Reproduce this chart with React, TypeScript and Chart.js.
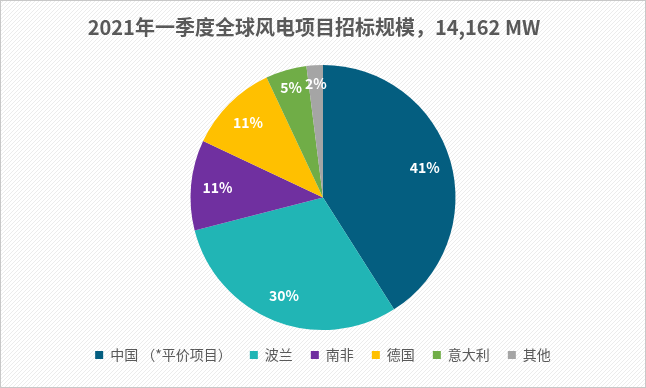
import React, { useEffect, useRef } from "react";
import { Chart, registerables } from "chart.js";

Chart.register(...registerables);

const titleText = "2021年一季度全球风电项目招标规模，14,162 MW";
const categories = ["中国 （*平价项目）", "波兰", "南非", "德国", "意大利", "其他"];
const shares = [41, 30, 11, 11, 5, 2];
const colors = ["#045e80", "#21b5b5", "#7030a0", "#ffc000", "#70ad47", "#a5a5a5"];

const FONT = "'Noto Sans CJK SC', 'Noto Sans', sans-serif";

const bgPlugin = {
  id: "bgPlugin",
  beforeDraw(chart: any) {
    const { ctx, width, height } = chart;
    const p = document.createElement("canvas");
    p.width = 4;
    p.height = 4;
    const pc = p.getContext("2d")!;
    pc.fillStyle = "#ffffff";
    pc.fillRect(0, 0, 4, 4);
    pc.strokeStyle = "#ececec";
    pc.lineWidth = 1;
    pc.beginPath();
    pc.moveTo(0, 4);
    pc.lineTo(4, 0);
    pc.stroke();
    ctx.save();
    ctx.fillStyle = ctx.createPattern(p, "repeat");
    ctx.fillRect(0, 0, width, height);
    ctx.strokeStyle = "#c8c8c8";
    ctx.lineWidth = 1;
    ctx.strokeRect(0.5, 0.5, width - 1, height - 1);
    ctx.fillStyle = "#595959";
    ctx.font = `bold 20px ${FONT}`;
    ctx.textAlign = "center";
    ctx.textBaseline = "middle";
    ctx.fillText(titleText, width / 2 - 9, 27);
    ctx.restore();
  },
};

const labelPlugin = {
  id: "labelPlugin",
  afterDatasetsDraw(chart: any) {
    const { ctx } = chart;
    const meta = chart.getDatasetMeta(0);
    const data = chart.data.datasets[0].data as number[];
    ctx.save();
    ctx.fillStyle = "#ffffff";
    ctx.font = `bold 14px ${FONT}`;
    ctx.textAlign = "center";
    ctx.textBaseline = "middle";
    meta.data.forEach((arc: any, i: number) => {
      const { x, y, startAngle, endAngle, outerRadius } = arc.getProps(
        ["x", "y", "startAngle", "endAngle", "outerRadius"],
        true
      );
      const mid = (startAngle + endAngle) / 2;
      const f = data[i] < 6 ? 0.86 : 0.8;
      const r = outerRadius * f;
      ctx.fillText(`${data[i]}%`, x + Math.cos(mid) * r, y + Math.sin(mid) * r);
    });
    ctx.restore();
  },
};

export default function App() {
  const ref = useRef<HTMLCanvasElement>(null);
  useEffect(() => {
    document.body.style.margin = "0";
    const chart = new Chart(ref.current!, {
      type: "pie",
      data: {
        labels: categories,
        datasets: [
          {
            data: shares,
            backgroundColor: colors,
            borderWidth: 0,
            hoverOffset: 0,
            offset: 0,
          },
        ],
      },
      options: {
        animation: false,
        responsive: false,
        layout: { padding: { top: 65, bottom: 16, left: 0, right: 0 } },
        plugins: {
          title: { display: false },
          legend: {
            position: "bottom",
            labels: {
              color: "#595959",
              font: { family: FONT, size: 14 },
              boxWidth: 8,
              boxHeight: 8,
              padding: 18,
            },
          },
          tooltip: { enabled: false },
        },
      },
      plugins: [bgPlugin, labelPlugin],
    });
    return () => chart.destroy();
  }, []);
  return (
    <div style={{ width: 646, height: 388 }}>
      <canvas ref={ref} width={646} height={388} style={{ display: "block" }} />
    </div>
  );
}
